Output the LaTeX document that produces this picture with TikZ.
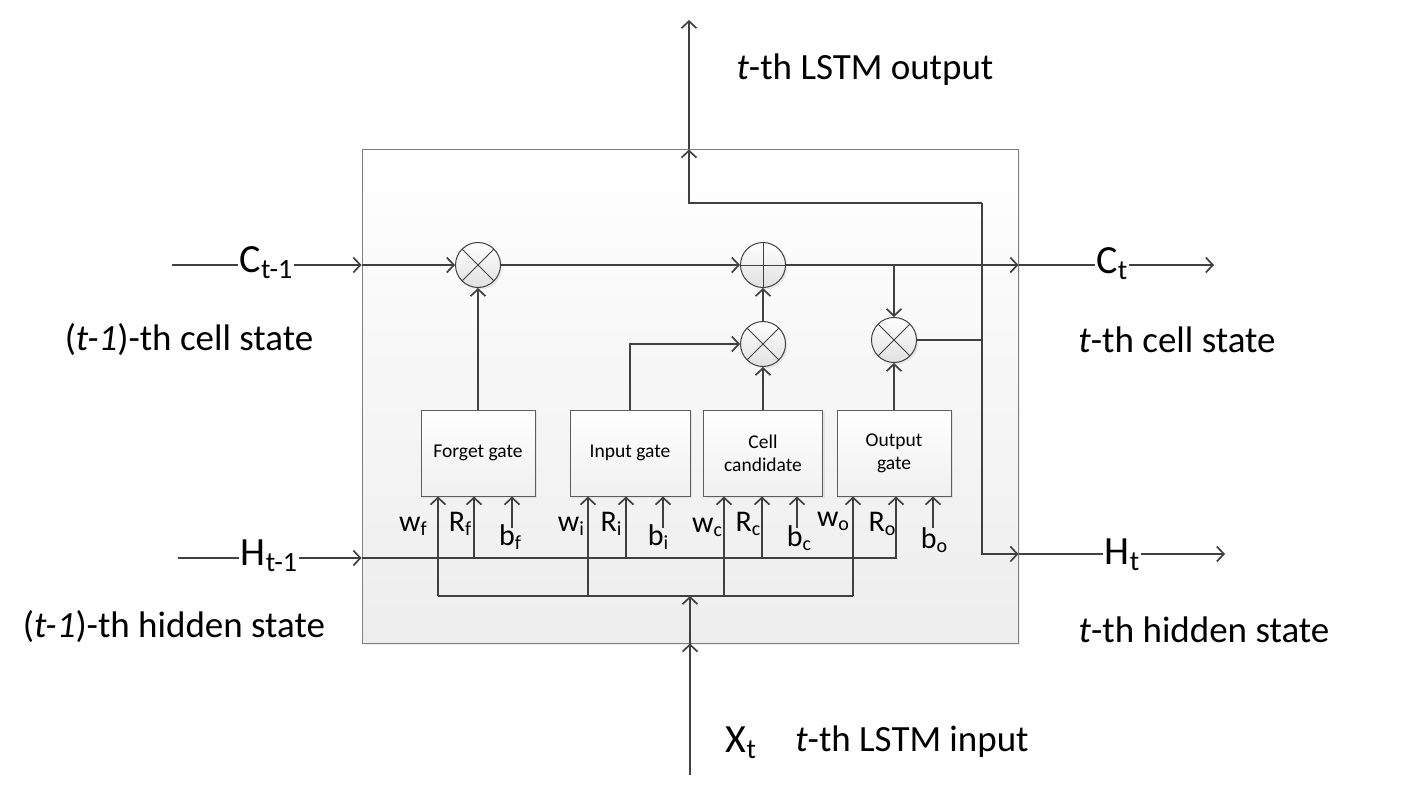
\documentclass[tikz,border=0pt]{standalone}
\usepackage{fontspec}
\setmainfont{Carlito}
\usetikzlibrary{arrows.meta,shadows}
\definecolor{ln}{HTML}{404040}
\definecolor{bd}{HTML}{7F7F7F}
\newcommand\bigsub[1]{\raisebox{-6pt}{\fontsize{28}{28}\selectfont #1}}
\newcommand\smsub[1]{\raisebox{-4pt}{\fontsize{20}{20}\selectfont #1}}
\begin{document}
\begin{tikzpicture}[x=1pt,y=-1pt,
  line/.style={draw=ln,line width=1.7pt},
  arr/.style={line,-{Straight Barb[length=7pt,width=15pt]}},
  mult/.style={circle,draw=ln,line width=1pt,minimum size=45pt,inner sep=0pt,
    top color=white,bottom color=black!12,
    drop shadow={opacity=0.15,shadow xshift=2pt,shadow yshift=-2pt}},
  timesop/.style={mult,path picture={\draw[ln,line width=0.8pt]
    (path picture bounding box.north west) -- (path picture bounding box.south east)
    (path picture bounding box.north east) -- (path picture bounding box.south west);}},
  plusop/.style={mult,path picture={\draw[ln,line width=0.8pt]
    (path picture bounding box.north) -- (path picture bounding box.south)
    (path picture bounding box.west) -- (path picture bounding box.east);}},
  gatebox/.style={rectangle,draw=ln!85,line width=1pt,inner sep=0pt,
    minimum height=86pt,top color=white,bottom color=black!6,
    font=\fontsize{19.5}{23}\selectfont,align=center,
    drop shadow={opacity=0.15,shadow xshift=2pt,shadow yshift=-2pt}},
  mainlbl/.style={font=\fontsize{37}{40}\selectfont,inner sep=1pt},
  statelbl/.style={font=\fontsize{40}{42}\selectfont,fill=white,inner sep=2pt},
  wlbl/.style={font=\fontsize{30}{30}\selectfont,inner sep=0pt}
]
\useasboundingbox (0,0) rectangle (1416,786);
% outer cell box
\node[rectangle,draw=bd,line width=1pt,minimum width=656pt,minimum height=493pt,
  top color=white,bottom color=black!7,
  drop shadow={opacity=0.12,shadow xshift=2pt,shadow yshift=-2pt}] (cell) at (690,396.5) {};
% operators
\node[timesop] (fm) at (478,265) {};
\node[plusop]  (pl) at (763,265) {};
\node[timesop] (im) at (763,344) {};
\node[timesop] (om) at (894,340) {};
% gates
\node[gatebox,minimum width=114pt] (fg) at (478,453) {Forget gate};
\node[gatebox,minimum width=120pt] (ig) at (630,453) {Input gate};
\node[gatebox,minimum width=119pt] (cc) at (763,453) {Cell\\candidate};
\node[gatebox,minimum width=114pt] (og) at (894,453) {Output\\gate};
% free ends
\coordinate (cin) at (172,265);
\coordinate (cout) at (1214,265);
\coordinate (hin) at (178,558);
\coordinate (hout) at (1225,554);
\coordinate (xin) at (690,775);
\coordinate (yout) at (689,20);
\coordinate (tl) at (689,203);
\coordinate (tr) at (982,203);
\coordinate (hr) at (982,554);
\coordinate (ro) at (896,558);
% cell state line
\draw[arr] (cin) -- (cin -| cell.west);
\draw[arr] (cell.west |- fm) -- (fm);
\draw[arr] (fm) -- (pl);
\draw[arr] (pl) -- (pl -| cell.east);
\draw[arr] (pl -| cell.east) -- (cout);
\draw[arr] (om |- pl) -- (om);
% gate to operators
\draw[arr] (fg) -- (fm);
\draw[arr] (ig.north) |- (im);
\draw[arr] (cc) -- (im);
\draw[arr] (im) -- (pl);
\draw[arr] (og) -- (om);
% output paths
\draw[line] (om) -- (om -| tr);
\draw[arr] (tr) -- (hr) -- (hr -| cell.east);
\draw[arr] (hr -| cell.east) -- (hout);
\draw[arr] (tr) -- (tl) -- (tl |- cell.north);
\draw[arr] (tl |- cell.north) -- (yout);
% hidden state bus
\draw[arr] (hin) -- (hin -| cell.west);
\draw[arr] (hin -| cell.west) -- (ro) -- (ro |- og.south);
\foreach \x/\g in {474/fg,626/ig,762/cc}{
  \coordinate (tmp) at (\x,558);
  \draw[arr] (tmp) -- (tmp |- \g.south);
}
% biases
\foreach \x/\g in {512/fg,663/ig,797/cc,933/og}{
  \coordinate (tmp) at (\x,528);
  \draw[arr] (tmp) -- (tmp |- \g.south);
}
% input bus
\coordinate (wl) at (438,596);
\coordinate (wr) at (853,596);
\draw[line] (wl) -- (wr);
\foreach \x/\g in {438/fg,588/ig,724/cc,853/og}{
  \coordinate (tmp) at (\x,596);
  \draw[arr] (tmp) -- (tmp |- \g.south);
}
\draw[arr] (xin) -- (xin |- cell.south);
\draw[arr] (xin |- cell.south) -- (xin |- wl);
% labels on lines
\node[statelbl] (lc1) at (266,263) {C\bigsub{t-1}};
\node[statelbl] (lc2) at (1112,264) {C\bigsub{t}};
\node[statelbl] (lh1) at (269,556) {H\bigsub{t-1}};
\node[statelbl] (lh2) at (1122,555) {H\bigsub{t}};
\node[mainlbl,font=\fontsize{40}{42}\selectfont] (lx) at (741,743) {X\bigsub{t}};
% descriptions
\node[mainlbl] (dout) at (865,70) {\textit{t}-th LSTM output};
\node[mainlbl] (dcp) at (189,340) {(\textit{t-1})-th cell state};
\node[mainlbl] (dct) at (1177,340) {\textit{t}-th cell state};
\node[mainlbl] (dhp) at (174,627) {(\textit{t-1})-th hidden state};
\node[mainlbl] (dht) at (1204,630) {\textit{t}-th hidden state};
\node[mainlbl] (din) at (912,742) {\textit{t}-th LSTM input};
% weight labels
\node[wlbl] at (413,526) {w\smsub{f}};
\node[wlbl] at (460,524) {R\smsub{f}};
\node[wlbl] at (510,537) {b\smsub{f}};
\node[wlbl] at (571,526) {w\smsub{i}};
\node[wlbl] at (611,524) {R\smsub{i}};
\node[wlbl] at (658,537) {b\smsub{i}};
\node[wlbl] at (707,527) {w\smsub{c}};
\node[wlbl] at (748,524) {R\smsub{c}};
\node[wlbl] at (799,538) {b\smsub{c}};
\node[wlbl] at (833,521) {w\smsub{o}};
\node[wlbl] at (882,524) {R\smsub{o}};
\node[wlbl] at (934,540) {b\smsub{o}};
\end{tikzpicture}
\end{document}
